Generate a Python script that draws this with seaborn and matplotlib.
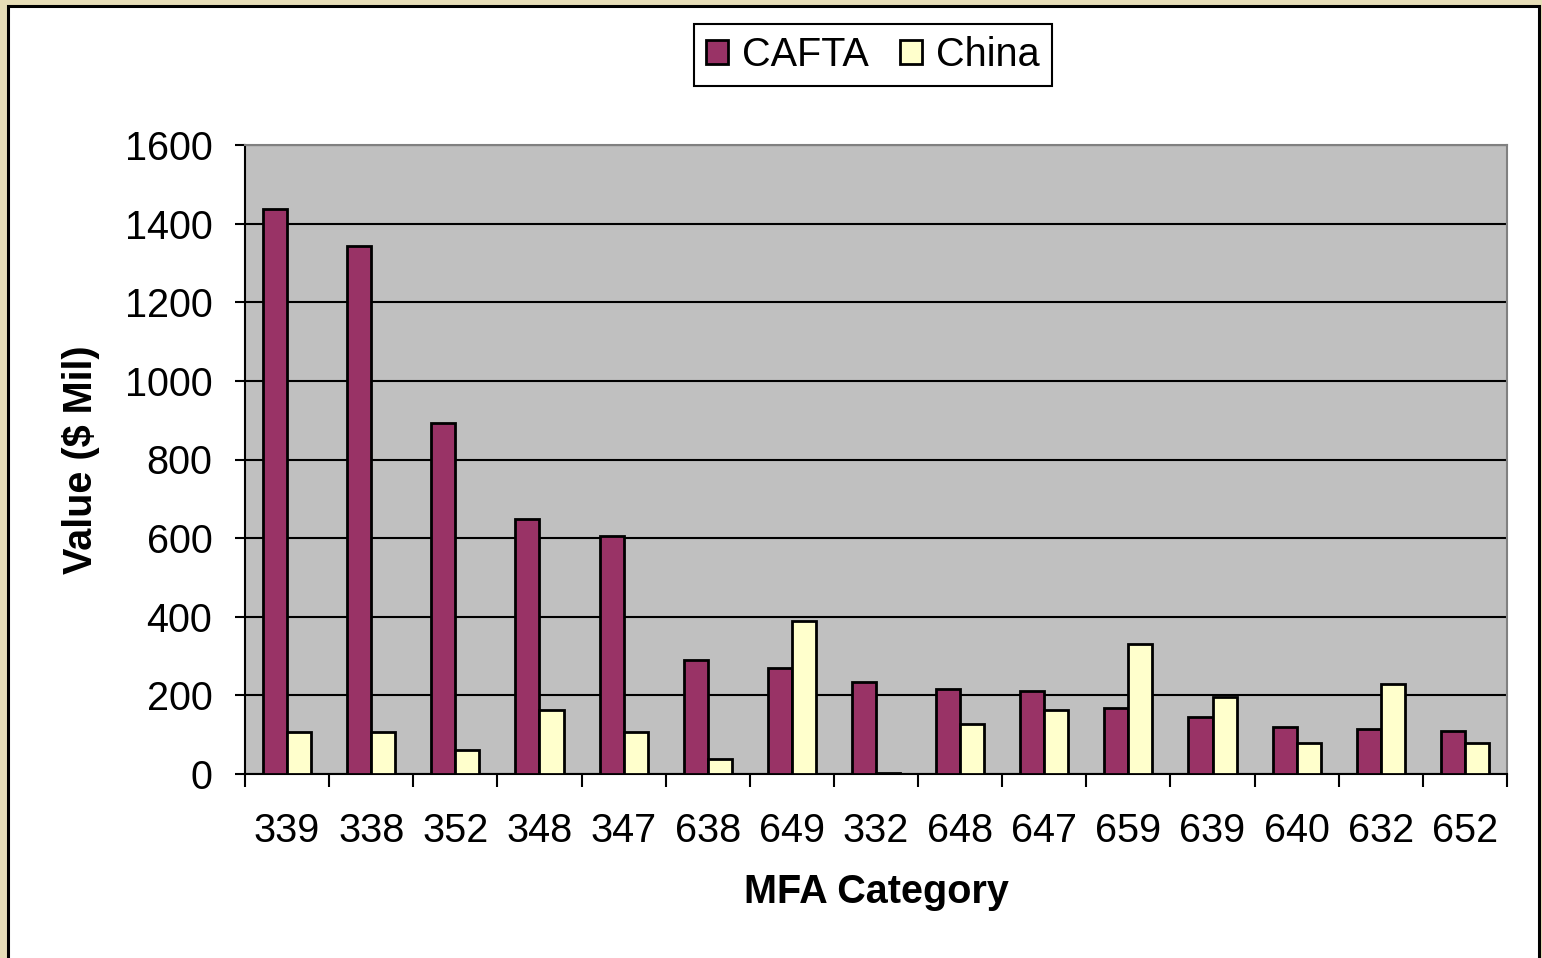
import matplotlib
matplotlib.use("Agg")
import matplotlib.pyplot as plt
from matplotlib.patches import Rectangle
from matplotlib.ticker import FixedLocator
import pandas as pd
import seaborn as sns

categories = ["339", "338", "352", "348", "347", "638", "649", "332",
              "648", "647", "659", "639", "640", "632", "652"]
cafta = [1437, 1343, 893, 649, 606, 289, 270, 235, 216, 211, 169, 145, 120, 115, 109]
china = [108, 108, 61, 163, 108, 38, 389, 3, 126, 163, 331, 197, 78, 229, 78]
y_ticks = [0, 200, 400, 600, 800, 1000, 1200, 1400, 1600]

df = pd.DataFrame({
    "category": categories * 2,
    "value": cafta + china,
    "series": ["CAFTA"] * len(categories) + ["China"] * len(categories),
})

sns.set_style("white")
plt.rcParams["font.family"] = ["Liberation Sans", "DejaVu Sans"]
plt.rcParams["text.color"] = "black"
plt.rcParams["xtick.color"] = "black"
plt.rcParams["ytick.color"] = "black"
plt.rcParams["axes.labelcolor"] = "black"
fs = 28.5

fig = plt.figure(figsize=(15.42, 9.58), dpi=100, facecolor="#E6DDB7")
# white slide panel with black border
fig.patches.append(Rectangle((7.5 / 1542, -0.02), 1531.5 / 1542, 1 - 6 / 958 + 0.02,
                             transform=fig.transFigure, facecolor="white",
                             edgecolor="black", linewidth=2.2, zorder=-5))

ax = fig.add_axes([245 / 1542, 184 / 958, 1262 / 1542, 629 / 958])
ax.set_facecolor("#C0C0C0")

sns.barplot(data=df, x="category", y="value", hue="series", order=categories,
            palette={"CAFTA": "#993366", "China": "#FFFFCC"}, width=0.572,
            saturation=1, edgecolor="black", linewidth=2, ax=ax, zorder=3)

ax.set_ylim(0, 1600)
ax.set_xlim(-0.5, len(categories) - 0.5)
ax.set_yticks(y_ticks)
ax.yaxis.grid(True, color="black", linewidth=1.5, zorder=1)
ax.set_axisbelow(True)

for s in ["top", "right"]:
    ax.spines[s].set_color("#808080")
    ax.spines[s].set_linewidth(1.5)
for s in ["left", "bottom"]:
    ax.spines[s].set_color("black")
    ax.spines[s].set_linewidth(1.5)

ax.xaxis.set_minor_locator(FixedLocator([i - 0.5 for i in range(len(categories) + 1)]))
ax.tick_params(axis="x", which="major", length=0, pad=27, labelsize=fs)
ax.tick_params(axis="x", which="minor", length=9, width=1.5, color="black", direction="out")
ax.tick_params(axis="y", length=7.5, width=1.5, color="black", direction="out",
               pad=16, labelsize=fs, left=True)
ax.tick_params(axis="x", bottom=True, which="both")

ax.set_xlabel("MFA Category", fontsize=fs, fontweight="bold", labelpad=17)
ax.set_ylabel("Value ($ Mil)", fontsize=fs, fontweight="bold", labelpad=18)

ax.get_legend().remove()
handles, labels = ax.get_legend_handles_labels()
leg = fig.legend(handles, labels, loc="center", bbox_to_anchor=(873 / 1542, 1 - 55 / 958),
                 ncol=2, fontsize=fs, frameon=True, fancybox=False, edgecolor="black",
                 framealpha=1, handlelength=0.55, handleheight=0.55, handletextpad=0.35,
                 columnspacing=0.8, borderpad=0.3)
leg.get_frame().set_linewidth(1.5)

fig.savefig("out.png", dpi=100, facecolor=fig.get_facecolor())
